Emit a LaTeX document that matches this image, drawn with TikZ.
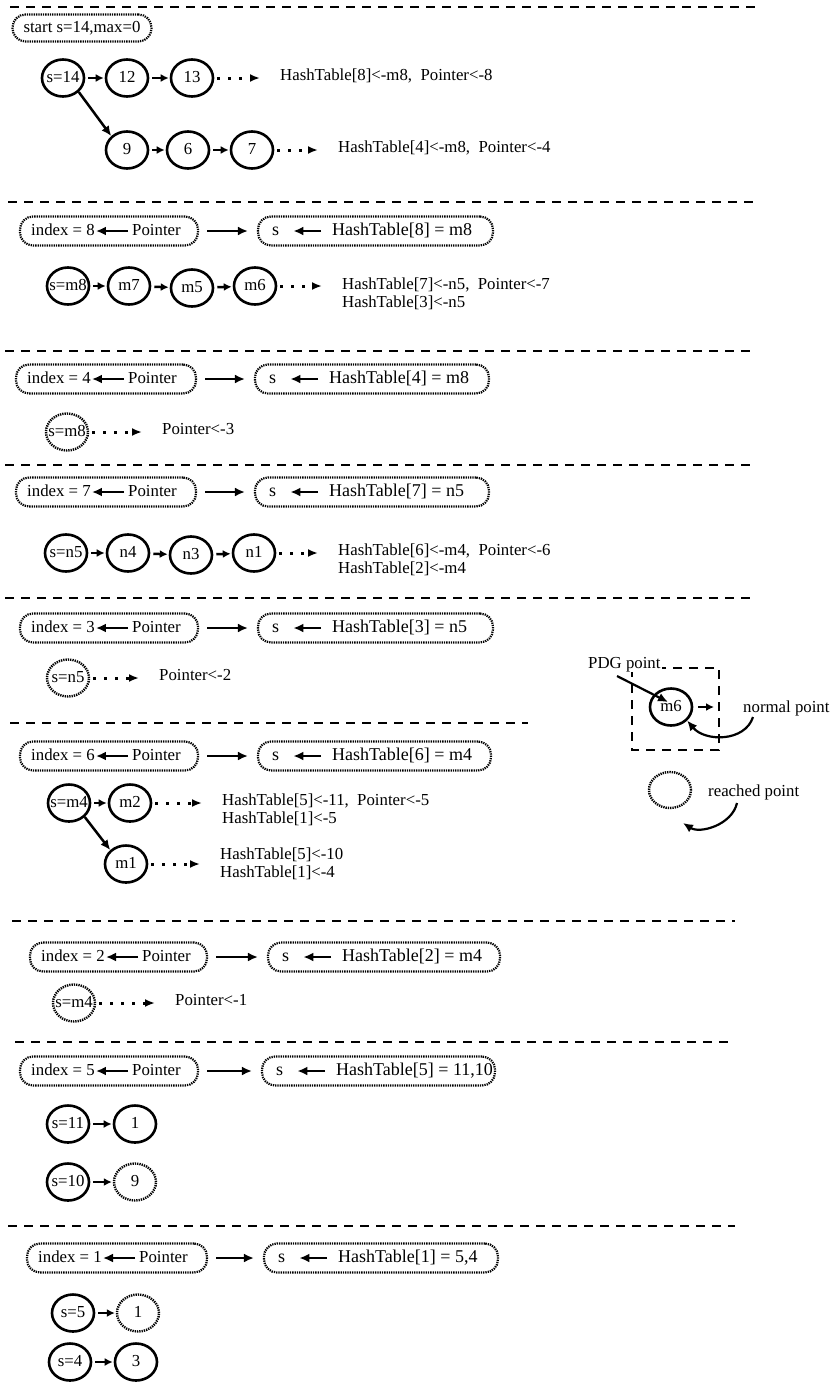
\documentclass[tikz,border=0pt]{standalone}
\usepackage{fontspec}
\setmainfont{Liberation Serif}
\usetikzlibrary{arrows.meta,shapes.geometric,calc}
\newcommand\myfs{\fontsize{16.8}{18}\selectfont}
\newcommand\mybig{\fontsize{18}{20}\selectfont}
\newcommand\zb[1]{\makebox[0pt]{#1}}
\newcommand\brow[8]{%
  \node[box, minimum width={(#4)-(#3)}] (#1L) at ({((#3)+(#4))/2},#2) {};
  \node[txt] (#1i) at ({(#3)+11},#2) {index = #7};
  \node[txt] (#1p) at ({(#3)+112},#2) {Pointer};
  \draw[barr, shorten <=4pt, shorten >=1pt] (#1p.west) -- (#1i.east);
  \node[box, minimum width={(#6)-(#5)}] (#1R) at ({((#5)+(#6))/2},#2) {};
  \node[txt, font=\mybig] (#1s) at ({(#5)+14},#2) {s};
  \node[txt, font=\mybig] (#1h) at ({(#5)+74},#2) {#8};
  \draw[barr, shorten <=11pt, shorten >=14pt] (#1h.west) -- (#1s.east);
  \draw[barr, shorten <=8pt, shorten >=9pt] (#1L.east) -- (#1R.west);
}
\begin{document}
\begin{tikzpicture}[x=1pt,y=-1pt,
  every node/.style={font=\myfs, inner sep=0pt},
  sep/.style={line width=2.5pt, dash pattern=on 9pt off 7pt},
  nd/.style={ellipse, draw, line width=2.6pt, minimum width=42pt, minimum height=37pt, text height=12pt, text depth=4pt},
  rnd/.style={ellipse, draw, line width=2.4pt, dash pattern=on 1.3pt off 1pt, minimum width=42pt, minimum height=37pt, text height=12pt, text depth=4pt},
  box/.style={draw, rounded corners=13pt, line width=2.2pt, dash pattern=on 1.3pt off 1pt, minimum height=29pt},
  txt/.style={anchor=west, text height=12pt, text depth=4pt},
  ar/.style={line width=2.5pt, -{Latex[length=8pt,width=8pt]}, shorten <=3pt, shorten >=1pt},
  barr/.style={line width=2.5pt, -{Latex[length=10pt,width=9pt]}},
  dar/.style={line width=3pt, dash pattern=on 3pt off 8pt, -{Latex[length=10pt,width=8pt]}, shorten <=3pt, shorten >=20pt},
  carr/.style={line width=2.2pt, -{Latex[length=10pt,width=9pt]}},
]
\useasboundingbox (0,0) rectangle (832,1382);

% ---------- section 1
\draw[sep] (10,7) -- (755,7);
\node[box, minimum width=139pt, minimum height=27pt] (start) at (82,28) {start s=14,max=0};
\node[nd] (a1) at (63,78) {\zb{s=14}};
\node[nd] (a2) at (127,78) {\zb{12}};
\node[nd] (a3) at (192,78) {\zb{13}};
\node[txt] (t1) at (280,76) {HashTable[8]<-m8,\ \ Pointer<-8};
\draw[ar] (a1) -- (a2);
\draw[ar] (a2) -- (a3);
\draw[dar] (a3.east) -- (t1.west |- a3.east);
\node[nd] (b1) at (127,150) {\zb{9}};
\node[nd] (b2) at (188,150) {\zb{6}};
\node[nd] (b3) at (252,150) {\zb{7}};
\node[txt] (t2) at (338,148) {HashTable[4]<-m8,\ \ Pointer<-4};
\draw[line width=2.5pt, -{Latex[length=10pt,width=9pt]}] (a1.south east) -- (b1.north west);
\draw[ar] (b1) -- (b2);
\draw[ar] (b2) -- (b3);
\draw[dar] (b3.east) -- (t2.west |- b3.east);

% ---------- section 2
\draw[sep] (8,202) -- (755,202);
\brow{p2}{231}{20}{198}{258}{493}{8}{HashTable[8] = m8}
\node[nd] (c1) at (68,286) {\zb{s=m8}};
\node[nd] (c2) at (129,286) {\zb{m7}};
\node[nd] (c3) at (192,288) {\zb{m5}};
\node[nd] (c4) at (255,286) {\zb{m6}};
\draw[ar] (c1) -- (c2);
\draw[ar] (c2) -- (c3);
\draw[ar] (c3) -- (c4);
\node[txt] (t3) at (342,285) {HashTable[7]<-n5,\ \ Pointer<-7};
\node[txt] (t4) at (342,303) {HashTable[3]<-n5};
\draw[dar] (c4.east) -- (t3.west |- c4.east);

% ---------- section 3
\draw[sep] (5,351) -- (755,351);
\brow{p3}{379}{16}{196}{255}{489}{4}{HashTable[4] = m8}
\node[rnd] (d1) at (67,432) {\zb{s=m8}};
\node[txt] (t5) at (162,430) {Pointer<-3};
\draw[dar] (d1.east) -- (t5.west |- d1.east);

% ---------- section 4
\draw[sep] (5,465) -- (755,465);
\brow{p4}{492}{16}{196}{255}{489}{7}{HashTable[7] = n5}
\node[nd] (e1) at (66,553) {\zb{s=n5}};
\node[nd] (e2) at (128,553) {\zb{n4}};
\node[nd] (e3) at (191,555) {\zb{n3}};
\node[nd] (e4) at (254,553) {\zb{n1}};
\draw[ar] (e1) -- (e2);
\draw[ar] (e2) -- (e3);
\draw[ar] (e3) -- (e4);
\node[txt] (t6) at (338,551) {HashTable[6]<-m4,\ \ Pointer<-6};
\node[txt] (t7) at (338,569) {HashTable[2]<-m4};
\draw[dar] (e4.east) -- (t6.west |- e4.east);

% ---------- section 5
\draw[sep] (5,598) -- (755,598);
\brow{p5}{628}{20}{198}{258}{493}{3}{HashTable[3] = n5}
\node[rnd] (f1) at (68,678) {\zb{s=n5}};
\node[txt] (t8) at (159,676) {Pointer<-2};
\draw[dar] (f1.east) -- (t8.west |- f1.east);

% ---------- section 6
\draw[sep] (10,723) -- (528,723);
\brow{p6}{756}{20}{198}{258}{491}{6}{HashTable[6] = m4}
\node[nd] (g1) at (69,803) {\zb{s=m4}};
\node[nd] (g2) at (130,803) {\zb{m2}};
\draw[ar] (g1) -- (g2);
\node[txt] (t9) at (222,801) {HashTable[5]<-11,\ \ Pointer<-5};
\node[txt] (t10) at (222,819) {HashTable[1]<-5};
\draw[dar] (g2.east) -- (t9.west |- g2.east);
\node[nd] (g3) at (126,864) {\zb{m1}};
\draw[line width=2.5pt, -{Latex[length=10pt,width=9pt]}] (g1.south east) -- (g3.north west);
\node[txt] (t11) at (220,855) {HashTable[5]<-10};
\node[txt] (t12) at (220,873) {HashTable[1]<-4};
\draw[dar] (g3.east) -- (t11.west |- g3.east);

% ---------- section 7
\draw[sep] (12,921) -- (735,921);
\brow{p7}{957}{30}{207}{268}{500}{2}{HashTable[2] = m4}
\node[rnd] (h1) at (74,1003) {\zb{s=m4}};
\node[txt] (t13) at (175,1001) {Pointer<-1};
\draw[dar] (h1.east) -- (t13.west |- h1.east);

% ---------- section 8
\draw[sep] (15,1042) -- (735,1042);
\brow{p8}{1071}{20}{198}{262}{495}{5}{HashTable[5] = 11,10}
\node[nd] (i1) at (68,1124) {\zb{s=11}};
\node[nd] (i2) at (135,1124) {\zb{1}};
\draw[ar] (i1) -- (i2);
\node[nd] (i3) at (68,1182) {\zb{s=10}};
\node[rnd] (i4) at (135,1182) {\zb{9}};
\draw[ar] (i3) -- (i4);

% ---------- section 9
\draw[sep] (8,1226) -- (735,1226);
\brow{p9}{1258}{27}{207}{264}{498}{1}{HashTable[1] = 5,4}
\node[nd] (j1) at (73,1313) {\zb{s=5}};
\node[rnd] (j2) at (138,1313) {\zb{1}};
\draw[ar] (j1) -- (j2);
\node[nd] (j3) at (70,1362) {\zb{s=4}};
\node[nd] (j4) at (136,1362) {\zb{3}};
\draw[ar] (j3) -- (j4);

% ---------- legend
\draw[sep] (632,668) rectangle (719,750);
\node[nd] (lm6) at (671,707) {\zb{m6}};
\node[fill=white, anchor=west, text height=12pt, text depth=4pt, inner xsep=1pt] (pdg) at (587,664) {PDG point};
\coordinate (pdgs) at (617,676);
\coordinate (pdgt) at (668,702);
\draw[line width=2.2pt, -{Latex[length=10pt,width=9pt]}] (pdgs) -- (pdgt);
\coordinate (lmr) at (714,707);
\draw[ar, shorten <=5pt, shorten >=0pt] (lm6.east) -- (lmr);
\node[txt] (np) at (743,708) {normal point};
\coordinate (nps) at (753,717);
\draw[carr] (nps) .. controls (745,742) and (705,742) .. (lm6.-40);
\node[rnd, minimum width=42pt, minimum height=36pt] (lr) at (670,790) {};
\node[txt] (rp) at (708,792) {reached point};
\coordinate (rps) at (737,803);
\coordinate (rpt) at (683,823);
\draw[carr] (rps) .. controls (732,825) and (700,834) .. (rpt);
\end{tikzpicture}
\end{document}
